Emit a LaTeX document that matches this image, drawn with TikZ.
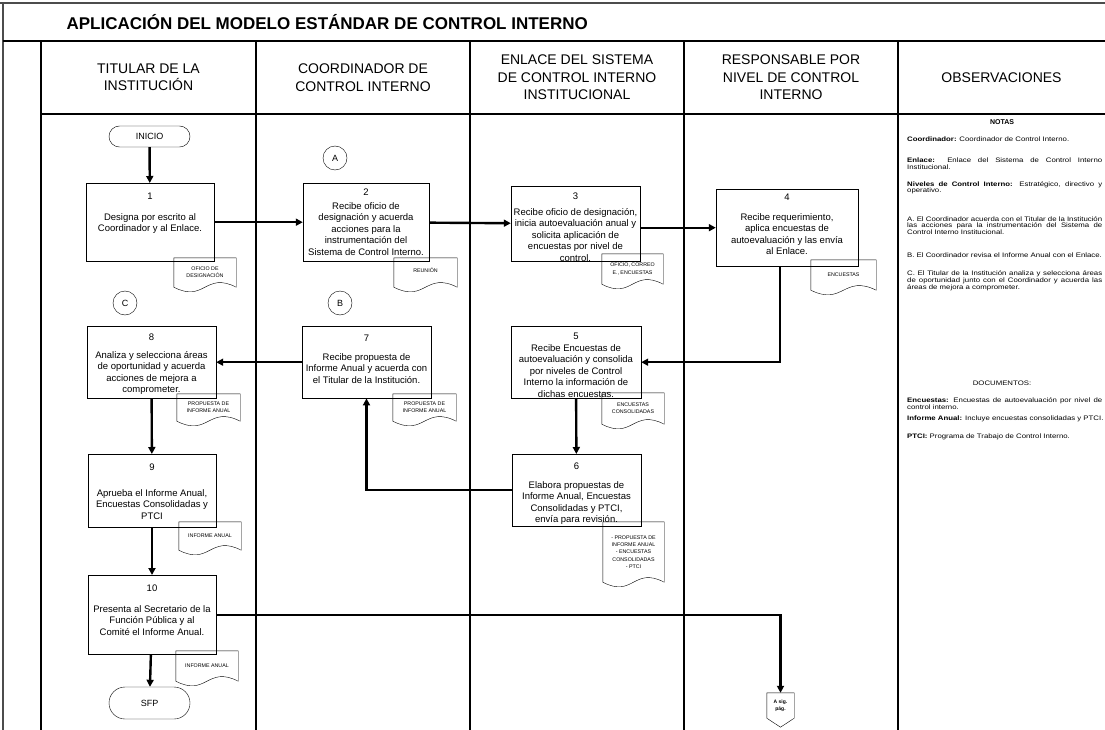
\documentclass[tikz,border=0pt]{standalone}
\usepackage{fontspec}
\setmainfont{Liberation Sans}
\newfontfamily\notasfont[FakeStretch=1.2]{Liberation Sans}
\usetikzlibrary{arrows.meta, calc, shapes.misc, positioning}
\hyphenpenalty=10000
\tolerance=9999

\begin{document}
\begin{tikzpicture}[x=1pt, y=-1pt,
  linea/.style={line width=1.4pt},
  encabezado/.style={align=center, font=\fontsize{14}{17.5}\selectfont},
  paso/.style={draw, anchor=north, align=center, inner xsep=1pt, inner ysep=0pt, font=\fontsize{9.5}{11.5}\selectfont},
  documento/.style={align=center, inner sep=0pt, font=\fontsize{5.3}{7.2}\selectfont},
  terminal/.style={draw, rounded rectangle, minimum width=81pt, inner sep=0pt, font=\fontsize{9}{11}\selectfont},
  conector/.style={draw, circle, minimum size=24pt, inner sep=0pt, font=\fontsize{9}{11}\selectfont},
  flecha/.style={line width=2.4pt, -{Triangle[length=7pt,width=7pt]}},
  nota/.style={anchor=north west, inner sep=0pt, font=\notasfont\fontsize{6.5}{6.8}\selectfont},
  notalarga/.style={nota, text width=195pt, align=justify}
]
\useasboundingbox (0,0) rectangle (1105,730);

% Set column borders
\pgfmathsetmacro{\colA}{41}
\pgfmathsetmacro{\colB}{256}
\pgfmathsetmacro{\colC}{470}
\pgfmathsetmacro{\colD}{684}
\pgfmathsetmacro{\colE}{898}

% Draw frame and columns
\draw[line width=1.5pt, black!70] (0,3) -- (1105,3);
\draw[line width=1.5pt, black!70] (3,3) -- (3,730);
\draw[linea] (3,41) -- (1105,41);
\draw[linea] (\colA,114) -- (1105,114);
\foreach \x in {\colA,\colB,\colC,\colD,\colE} \draw[linea] (\x,41) -- (\x,730);

% Title and headers
\node[anchor=west, font=\bfseries\fontsize{17}{20}\selectfont] (titulo) at (63,22) {APLICACIÓN DEL MODELO ESTÁNDAR DE CONTROL INTERNO};
\node[encabezado] (titular) at ({(\colA+\colB)/2},77.5) {TITULAR DE LA\\INSTITUCIÓN};
\node[encabezado] (coordinador) at ({(\colB+\colC)/2},77.5) {COORDINADOR DE\\CONTROL INTERNO};
\node[encabezado] (enlace) at ({(\colC+\colD)/2},77.5) {ENLACE DEL SISTEMA\\DE CONTROL INTERNO\\INSTITUCIONAL};
\node[encabezado] (responsable) at ({(\colD+\colE)/2},77.5) {RESPONSABLE POR\\NIVEL DE CONTROL\\INTERNO};
\node[encabezado] (observaciones) at ({(\colE+1105)/2},77.5) {OBSERVACIONES};

% Start and end
\node[terminal, minimum height=21pt] (inicio) at (149.5,136.5) {INICIO};
\node[terminal, minimum height=32pt] (sfp) at (149.5,703) {SFP};

% Steps
\node[paso, minimum width=128pt] (p1) at (150,183) {\rule{0pt}{16pt}1\\[9.5pt]Designa por escrito al\\Coordinador y al Enlace.\rule[-29.5pt]{0pt}{29.5pt}};
\node[paso, minimum width=126pt] (p2) at (366,183) {\rule{0pt}{12pt}2\\[2.5pt]Recibe oficio de\\designación y acuerda\\acciones para la\\instrumentación del\\Sistema de Control Interno.\rule[-6pt]{0pt}{6pt}};
\node[paso, minimum width=129pt] (p3) at (575.5,186) {\rule{0pt}{13pt}3\\[4.5pt]Recibe oficio de designación,\\inicia autoevaluación anual y\\solicita aplicación de\\encuestas por nivel  de\\\raisebox{0pt}[\height][0pt]{control.}};
\node[paso, minimum width=142pt] (p4) at (787,189) {\rule{0pt}{11pt}4\\[8.5pt]Recibe requerimiento,\\aplica encuestas de\\autoevaluación y las envía\\al Enlace.\rule[-11.5pt]{0pt}{11.5pt}};
\node[paso, minimum width=130pt] (p5) at (576,326) {\rule{0pt}{13pt}5\\[0.5pt]Recibe Encuestas de\\autoevaluación y consolida\\por niveles de Control\\Interno la información de\\dichas encuestas.\rule[-1pt]{0pt}{1pt}};
\node[paso, minimum width=129pt] (p6) at (576.5,454) {\rule{0pt}{15pt}6\\[7.5pt]Elabora propuestas de\\Informe Anual, Encuestas\\Consolidadas y PTCI,\\envía para revisión.\rule[-3.5pt]{0pt}{3.5pt}};
\node[paso, minimum width=129pt] (p7) at (366.5,326) {\rule{0pt}{15pt}7\\[7.5pt]Recibe propuesta de\\Informe Anual y acuerda con\\el Titular de la Institución.\rule[-15pt]{0pt}{15pt}};
\node[paso, minimum width=129pt] (p8) at (151.5,326) {\rule{0pt}{14pt}8\\[6.5pt]Analiza y selecciona áreas\\de oportunidad y acuerda\\acciones de mejora a\\comprometer.\rule[-5.5pt]{0pt}{5.5pt}};
\node[paso, minimum width=128pt] (p9) at (152,454) {\rule{0pt}{16pt}9\\[14.5pt]Aprueba el Informe Anual,\\Encuestas Consolidadas y\\PTCI\rule[-8pt]{0pt}{8pt}};
\node[paso, minimum width=128pt] (p10) at (152,575) {\rule{0pt}{16pt}10\\[9.5pt]Presenta al Secretario de la\\Función Pública y al\\Comité el Informe Anual.\rule[-19pt]{0pt}{19pt}};

% Documents
\node[documento, minimum width=62pt, minimum height=29pt] (d1) at (205,272.5) {OFICIO DE\\DESIGNACIÓN};
\node[documento, minimum width=63pt, minimum height=29pt] (d2) at (425.5,272.5) {REUNIÓN\rule[-4pt]{0pt}{4pt}};
\node[documento, minimum width=61pt, minimum height=30pt] (d3) at (632.5,269) {OFICIO, CORREO\\E., ENCUESTAS};
\node[documento, minimum width=65pt, minimum height=30pt] (d4) at (843.5,275) {ENCUESTAS};
\node[documento, minimum width=63pt, minimum height=27pt] (d5) at (208.5,407.5) {PROPUESTA DE\\INFORME ANUAL};
\node[documento, minimum width=63pt, minimum height=27pt] (d6) at (424.5,407.5) {PROPUESTA DE\\INFORME ANUAL};
\node[documento, minimum width=62pt, minimum height=31pt] (d7) at (633,408.5) {ENCUESTAS\\CONSOLIDADAS};
\node[documento, minimum width=61pt, minimum height=60pt] (d8) at (633.5,552) {- PROPUESTA DE\\INFORME ANUAL\\- ENCUESTAS\\CONSOLIDADAS\\- PTCI};
\node[documento, minimum width=62pt, minimum height=28pt] (d9) at (210,536) {INFORME ANUAL};
\node[documento, minimum width=62pt, minimum height=30pt] (d10) at (207,666) {INFORME ANUAL};
\foreach \d in {d1,d2,d3,d4,d5,d6,d7,d8,d9,d10}
  \draw (\d.south west) -- (\d.north west) -- (\d.north east) -- (\d.south east)
    .. controls ($(\d.south)+(0,-16)$) and ($(\d.south)+(0,16)$) .. (\d.south west);

% Connectors on page
\node[conector] (ca) at (335,158) {A};
\node[conector] (cb) at (340,303) {B};
\node[conector] (cc) at (125,303) {C};

% Off-page connector
\node[inner sep=0pt, minimum width=27pt, minimum height=25pt, align=center, font=\bfseries\fontsize{5}{7.5}\selectfont] (sig) at (780.5,705.5) {A sig.\\pág.};
\draw (sig.south west) -- (sig.north west) -- (sig.north east) -- (sig.south east) -- ([yshift=-9pt]sig.south) -- cycle;

% Flow
\draw[flecha] (inicio) -- (p1);
\draw[flecha] (p1) -- (p2);
\draw[flecha] (p2) -- (p3);
\draw[flecha] (p3.east |- p4) -- (p4);
\draw[flecha] ([xshift=-7pt]p4.south) |- (p5);
\draw[flecha] (p5) -- (p6);
\draw[flecha] (p6) -| (p7);
\draw[flecha] (p7) -- (p8);
\draw[flecha] (p8) -- (p9);
\draw[flecha] (p9) -- (p10);
\draw[flecha] (p10) -- (sfp);
\draw[flecha] (p10) -| (sig);

% Notes
\node[font=\bfseries\fontsize{7}{8}\selectfont] (notas) at (1002,122) {NOTAS};
\node[nota] (n1) at (907,136.8) {\textbf{Coordinador:} Coordinador de Control Interno.};
\node[notalarga] (n2) at (907,157.5) {\textbf{Enlace:} Enlace del Sistema de Control Interno\linebreak Institucional.};
\node[notalarga] (n3) at (907,181.1) {\textbf{Niveles de Control Interno:} Estratégico, directivo y\linebreak operativo.};
\node[notalarga] (n4) at (907,216.1) {A. El Coordinador acuerda con el Titular de la Institución\linebreak las acciones para la instrumentación del Sistema de\linebreak Control Interno Institucional.};
\node[nota] (n5) at (907,252.8) {B. El Coordinador revisa el Informe Anual con el Enlace.};
\node[notalarga] (n6) at (907,270.8) {C. El Titular de la Institución analiza y selecciona áreas\linebreak de oportunidad junto con el Coordinador y acuerda las\linebreak áreas de mejora a comprometer.};
\node[font=\notasfont\fontsize{6.5}{7}\selectfont] (documentos) at (1002,383) {DOCUMENTOS:};
\node[notalarga] (n7) at (907,397.8) {\textbf{Encuestas:} Encuestas de autoevaluación por nivel de\linebreak control interno.};
\node[nota] (n8) at (907,415.8) {\textbf{Informe Anual:} Incluye encuestas consolidadas y PTCI.};
\node[nota] (n9) at (907,433.8) {\textbf{PTCI:} Programa de Trabajo de Control Interno.};
\end{tikzpicture}
\end{document}
